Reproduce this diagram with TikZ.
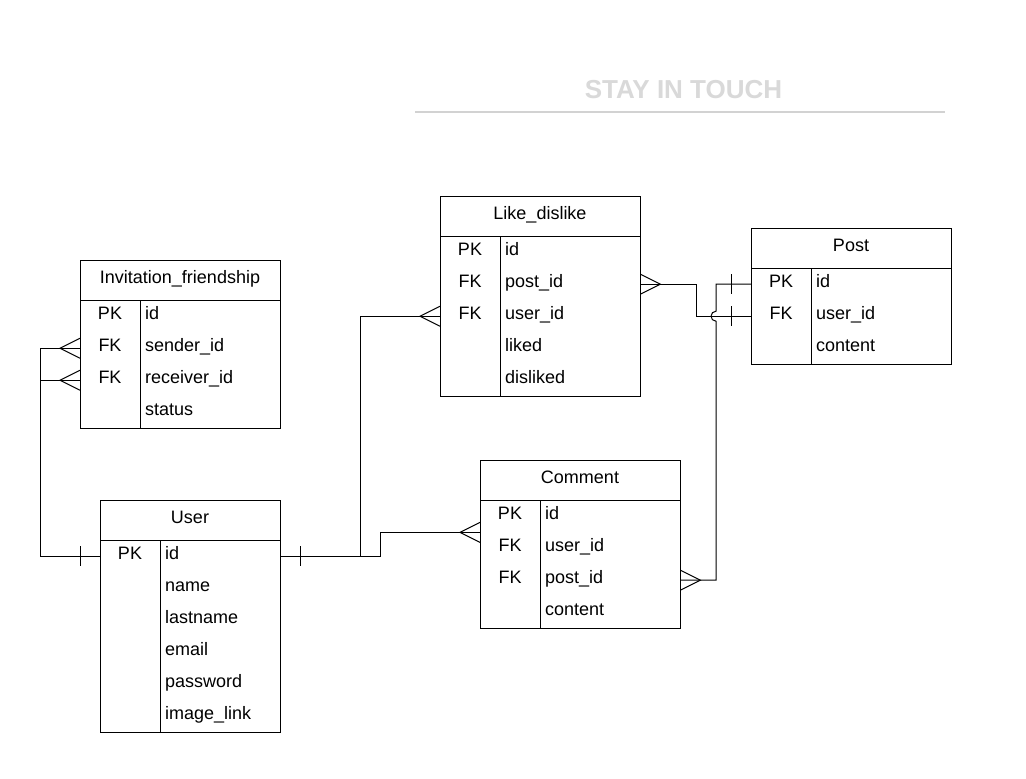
\documentclass[tikz,border=0pt]{standalone}
\usepackage{fontspec}
\setmainfont{Liberation Sans}
\tikzset{
  every picture/.style={x=1pt,y=-1pt},
  ln/.style={line width=1pt, black},
  rowbox/.style={inner sep=0pt, minimum height=32pt},
  hdrbox/.style={inner sep=0pt, minimum height=40pt},
  txt/.style={font=\fontsize{18}{20}\selectfont, inner sep=0pt},
  ttl/.style={font=\fontsize{26}{29}\selectfont\bfseries, text=gray!30, inner sep=0pt},
}
\newcommand\ertbl[7]{%
  \node[hdrbox, minimum width=#4, anchor=north west] (#1-h) at (#2,#3) {};
  \node[txt, anchor=base] (#1-t) at (#2+#4/2, #3+23.5) {#5};
  \foreach \k/\v [count=\i] in {#7}{%
    \node[rowbox, minimum width=#4, anchor=north west] (#1-\i) at (#2, #3+8+32*\i) {};
    \node[txt, anchor=base] (#1-k\i) at (#2+30, #3+27.5+32*\i) {\k};
    \node[txt, anchor=base west] (#1-v\i) at (#2+65, #3+27.5+32*\i) {\v};
  }
  \draw[ln] (#2,#3) rectangle (#2+#4, #3+40+32*#6);
  \draw[ln] (#2,#3+40) -- (#2+#4,#3+40);
  \draw[ln] (#2+60,#3+40) -- (#2+60,#3+40+32*#6);
}
\newcommand\crowW[1]{\draw[ln, shift={(#1)}] (0,-10) -- (-20,0) -- (0,10);}
\newcommand\crowE[1]{\draw[ln, shift={(#1)}] (0,-10) -- (20,0) -- (0,10);}
\newcommand\barW[1]{\draw[ln, shift={(#1)}] (-20,-10) -- (-20,10);}
\newcommand\barE[1]{\draw[ln, shift={(#1)}] (20,-10) -- (20,10);}
\begin{document}
\begin{tikzpicture}
\useasboundingbox (0,0) rectangle (1026,779);
\fill[white] (0,0) rectangle (1026,779);
% title
\node[ttl] (title) at (683.5,90) {STAY IN TOUCH};
\draw[line width=2pt, gray!35] (415,112) -- (945,112);
% tables
\ertbl{inv}{80}{260}{200}{Invitation\_friendship}{4}{PK/id,FK/sender\_id,FK/receiver\_id,/status}
\ertbl{like}{440}{196}{200}{Like\_dislike}{5}{PK/id,FK/post\_id,FK/user\_id,/liked,/disliked}
\ertbl{post}{751}{228}{200}{Post}{3}{PK/id,FK/user\_id,/content}
\ertbl{com}{480}{460}{200}{Comment}{4}{PK/id,FK/user\_id,FK/post\_id,/content}
\ertbl{user}{100}{500}{180}{User}{6}{PK/id,/name,/lastname,/email,/password,/image\_link}
% connectors
\draw[ln] (user-1.west) -- ++(-60,0) |- (inv-2.west);
\draw[ln] (user-1.west) -- ++(-60,0) |- (inv-3.west);
\crowW{inv-2.west}
\crowW{inv-3.west}
\barW{user-1.west}
\draw[ln] (user-1.east) -- ++(80,0) |- (like-3.west);
\crowW{like-3.west}
\barE{user-1.east}
\draw[ln] (user-1.east) -- ++(100,0) |- (com-1.south west);
\crowW{com-1.south west}
\draw[ln] (like-2.east) -- ++(56,0) |- (post-2.west);
\crowE{like-2.east}
\barW{post-2.west}
\draw[ln] (post-1.west) -- ++(-35,0) -- ++(0,27) arc[start angle=270, end angle=90, radius=5] |- (com-3.east);
\crowE{com-3.east}
\barW{post-1.west}
\end{tikzpicture}
\end{document}
